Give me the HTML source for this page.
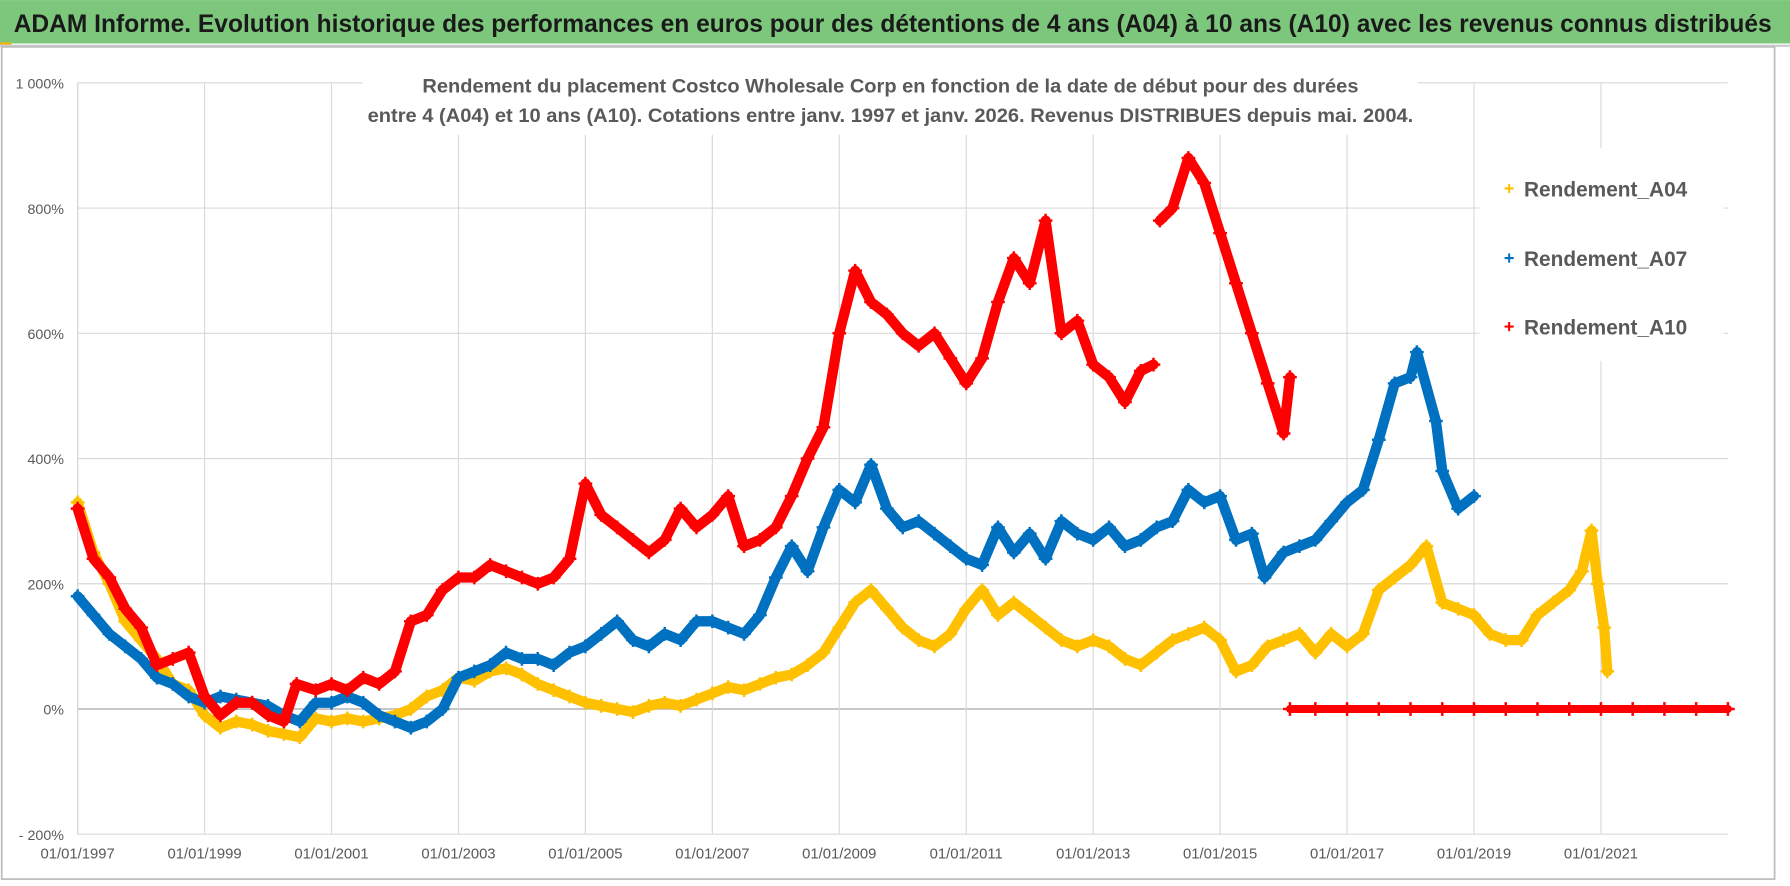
<!DOCTYPE html>
<html><head><meta charset="utf-8">
<style>
html,body{margin:0;padding:0;background:#fff;}
svg{display:block;}
text{font-family:"Liberation Sans Narrow","Liberation Sans",sans-serif;}
</style></head>
<body>
<svg id="chart" width="1790" height="886" viewBox="0 0 1568 776" xmlns="http://www.w3.org/2000/svg">
<rect x="0" y="0" width="1568" height="776" fill="#fff"/>
<rect x="0" y="0" width="1568" height="38" fill="#7dc77d"/>
<rect x="0" y="37" width="10" height="3" fill="#f0b400"/>
<line x1="0" y1="40" x2="1568" y2="40" stroke="#ccc" stroke-width="2"/>
<text x="12" y="28" font-size="22" font-weight="bold" fill="#1a1a1a" textLength="1540" lengthAdjust="spacingAndGlyphs">ADAM Informe. Evolution historique des performances en euros pour des détentions de 4 ans (A04) à 10 ans (A10) avec les revenus connus distribués</text>
<rect x="1.5" y="41" width="1553" height="729" fill="none" stroke="#bbb" stroke-width="1.5"/>
<g id="grid"></g>
<g id="axes"></g>
<g id="series"></g>
<rect x="318" y="58" width="924" height="60" fill="#fff"/>
<text x="780" y="81" font-size="17" font-weight="bold" fill="#595959" text-anchor="middle" textLength="820" lengthAdjust="spacingAndGlyphs">Rendement du placement Costco Wholesale Corp en fonction de la date de début pour des durées</text>
<text x="780" y="107" font-size="17" font-weight="bold" fill="#595959" text-anchor="middle" textLength="916" lengthAdjust="spacingAndGlyphs">entre 4 (A04) et 10 ans (A10). Cotations entre janv. 1997 et janv. 2026. Revenus DISTRIBUES depuis mai. 2004.</text>
<g id="legend"></g>
</svg>
<script>
const xTickLabels=["01/01/1997","01/01/1999","01/01/2001","01/01/2003","01/01/2005","01/01/2007","01/01/2009","01/01/2011","01/01/2013","01/01/2015","01/01/2017","01/01/2019","01/01/2021"];
const xTickYears=[1997,1999,2001,2003,2005,2007,2009,2011,2013,2015,2017,2019,2021];
const yTickValues=[1000,800,600,400,200,0,-200];
const yTickLabels=["1 000%","800%","600%","400%","200%","0%","- 200%"];

const datesA04=[1997,1997.25,1997.5,1997.75,1998,1998.25,1998.5,1998.75,1999,1999.25,1999.5,1999.75,2000,2000.25,2000.5,2000.75,2001,2001.25,2001.5,2001.75,2002,2002.25,2002.5,2002.75,2003,2003.25,2003.5,2003.75,2004,2004.25,2004.5,2004.75,2005,2005.25,2005.5,2005.75,2006,2006.25,2006.5,2006.75,2007,2007.25,2007.5,2007.75,2008,2008.25,2008.5,2008.75,2009,2009.25,2009.5,2009.75,2010,2010.25,2010.5,2010.75,2011,2011.25,2011.5,2011.75,2012,2012.25,2012.5,2012.75,2013,2013.25,2013.5,2013.75,2014,2014.25,2014.5,2014.75,2015,2015.25,2015.5,2015.75,2016,2016.25,2016.5,2016.75,2017,2017.25,2017.5,2017.75,2018,2018.25,2018.5,2018.75,2019,2019.25,2019.5,2019.75,2020,2020.25,2020.5,2020.7,2020.85,2020.95,2021.05,2021.1];
const valuesA04=[330,250,200,140,110,80,40,30,-10,-30,-20,-25,-35,-40,-45,-15,-20,-15,-20,-15,-10,0,20,30,50,45,60,65,55,40,30,20,10,5,0,-5,5,10,5,15,25,35,30,40,50,55,70,90,130,170,190,160,130,110,100,120,160,190,150,170,150,130,110,100,110,100,80,70,90,110,120,130,110,60,70,100,110,120,90,120,100,120,190,210,230,260,170,160,150,120,110,110,150,170,190,220,285,200,130,60,90];

const datesA07=[1997,1997.25,1997.5,1997.75,1998,1998.25,1998.5,1998.75,1999,1999.25,1999.5,1999.75,2000,2000.25,2000.5,2000.75,2001,2001.25,2001.5,2001.75,2002,2002.25,2002.5,2002.75,2003,2003.25,2003.5,2003.75,2004,2004.25,2004.5,2004.75,2005,2005.25,2005.5,2005.75,2006,2006.25,2006.5,2006.75,2007,2007.25,2007.5,2007.75,2008,2008.25,2008.5,2008.75,2009,2009.25,2009.5,2009.75,2010,2010.25,2010.5,2010.75,2011,2011.25,2011.5,2011.75,2012,2012.25,2012.5,2012.75,2013,2013.25,2013.5,2013.75,2014,2014.25,2014.5,2014.75,2015,2015.25,2015.5,2015.7,2016,2016.25,2016.5,2016.75,2017,2017.25,2017.5,2017.75,2018,2018.1,2018.4,2018.5,2018.75,2019];
const valuesA07=[180,150,120,100,80,50,40,20,10,20,15,10,5,-10,-20,10,10,20,10,-10,-20,-30,-20,0,50,60,70,90,80,80,70,90,100,120,140,110,100,120,110,140,140,130,120,150,210,260,220,290,350,330,390,320,290,300,280,260,240,230,290,250,280,240,300,280,270,290,260,270,290,300,350,330,340,270,280,210,250,260,270,300,330,350,430,520,530,570,460,380,320,340];

const datesA10=[1997,1997.25,1997.5,1997.75,1998,1998.25,1998.5,1998.75,1999,1999.25,1999.5,1999.75,2000,2000.25,2000.45,2000.75,2001,2001.25,2001.5,2001.75,2002,2002.25,2002.5,2002.75,2003,2003.25,2003.5,2003.75,2004,2004.25,2004.5,2004.75,2005,2005.25,2005.5,2005.75,2006,2006.25,2006.5,2006.75,2007,2007.25,2007.5,2007.75,2008,2008.25,2008.5,2008.75,2009,2009.25,2009.5,2009.75,2010,2010.25,2010.5,2010.75,2011,2011.25,2011.5,2011.75,2012,2012.25,2012.5,2012.75,2013,2013.25,2013.5,2013.75,2013.95];
const valuesA10=[320,240,210,160,130,70,80,90,20,-10,10,10,-10,-20,40,30,40,30,50,40,60,140,150,190,210,210,230,220,210,200,210,240,360,310,290,270,250,270,320,290,310,340,260,270,290,340,400,450,600,700,650,630,600,580,600,560,520,560,650,720,680,780,600,620,550,530,490,540,550];
const datesA10b=[2014.05,2014.25,2014.5,2014.75,2015,2015.25,2015.5,2015.75,2016,2016.1];
const valuesA10b=[780,800,880,840,760,680,600,520,440,530];
const zeroDatesA10=[2016.1,2016.5,2017,2017.5,2018,2018.5,2019,2019.5,2020,2020.5,2021,2021.5,2022,2022.5,2023];
const zeroValuesA10=[0,0,0,0,0,0,0,0,0,0,0,0,0,0,0];

const NS="http://www.w3.org/2000/svg";
const X0=68, PXY=55.6, Y0=621, PXV=0.5485;
function xs(t){return X0+(t-1997)*PXY;}
function ys(v){return Y0-v*PXV;}
function mk(tag,attrs,parent){const e=document.createElementNS(NS,tag);for(const k in attrs)e.setAttribute(k,attrs[k]);parent.appendChild(e);return e;}

const grid=document.getElementById('grid');
const axes=document.getElementById('axes');
const xLeft=xs(1997), xRight=xs(2023);
yTickValues.forEach((v,i)=>{
  const l=mk('line',{x1:xLeft,x2:xRight,y1:ys(v),y2:ys(v),stroke:v===0?'#bfbfbf':'#d9d9d9','stroke-width':v===0?1.5:1},grid);
  
  
  const t=mk('text',{x:56,y:ys(v)+5,'font-size':12.5,fill:'#595959','text-anchor':'end'},axes);
  t.textContent=yTickLabels[i];
  
  
});
xTickYears.forEach((yr,i)=>{
  const l=mk('line',{x1:xs(yr),x2:xs(yr),y1:ys(1000),y2:ys(-200),stroke:'#d9d9d9','stroke-width':1},grid);
  
  
  const t=mk('text',{x:xs(yr),y:752,'font-size':13,fill:'#595959','text-anchor':'middle'},axes);
  t.textContent=xTickLabels[i];
  
  
});
const ax=mk('line',{x1:xLeft,x2:xLeft,y1:ys(1000),y2:ys(-200),stroke:'#d9d9d9','stroke-width':1.2},axes);



const series=document.getElementById('series');
function drawSeries(dates,vals,color,name,width){
  const g=mk('g',{},series);
  
  
  const pts=dates.map((d,i)=>xs(d).toFixed(1)+','+ys(vals[i]).toFixed(1)).join(' ');
  const pl=mk('polyline',{points:pts,fill:'none',stroke:color,'stroke-width':width,'stroke-linejoin':'round','stroke-linecap':'round'},g);
  
  
  let d='';
  dates.forEach((t,i)=>{const x=xs(t),y=ys(vals[i]);d+=`M${x-6},${y}h12M${x},${y-6}v12`;});
  const p=mk('path',{d:d,stroke:color,'stroke-width':2.2,fill:'none'},g);
  
  
}
drawSeries(datesA04,valuesA04,'#ffc000','series-a04',9);
drawSeries(datesA07,valuesA07,'#0070c0','series-a07',9);
drawSeries(datesA10,valuesA10,'#ff0000','series-a10',9);
drawSeries(datesA10b,valuesA10b,'#ff0000','series-a10-late',9);
drawSeries(zeroDatesA10,zeroValuesA10,'#ff0000','series-a10-zero',7);

const legend=document.getElementById('legend');
const lb=mk('rect',{x:1296,y:130,width:214,height:186,fill:'#fff'},legend);


const legNames=["Rendement_A04","Rendement_A07","Rendement_A10"];
const legColors=["#ffc000","#0070c0","#ff0000"];
const legY=[165,226,286];
legNames.forEach((n,i)=>{
  const g=mk('g',{},legend);
  
  
  const m=mk('path',{d:`M${1318},${legY[i]}h8M${1322},${legY[i]-4}v8`,stroke:legColors[i],'stroke-width':1.8},g);
  
  
  const t=mk('text',{x:1335,y:legY[i]+7,'font-size':19,'font-weight':'bold',fill:'#595959',textLength:143,lengthAdjust:'spacingAndGlyphs'},g);
  t.textContent=n;
  
  
});
</script>
</body></html>
